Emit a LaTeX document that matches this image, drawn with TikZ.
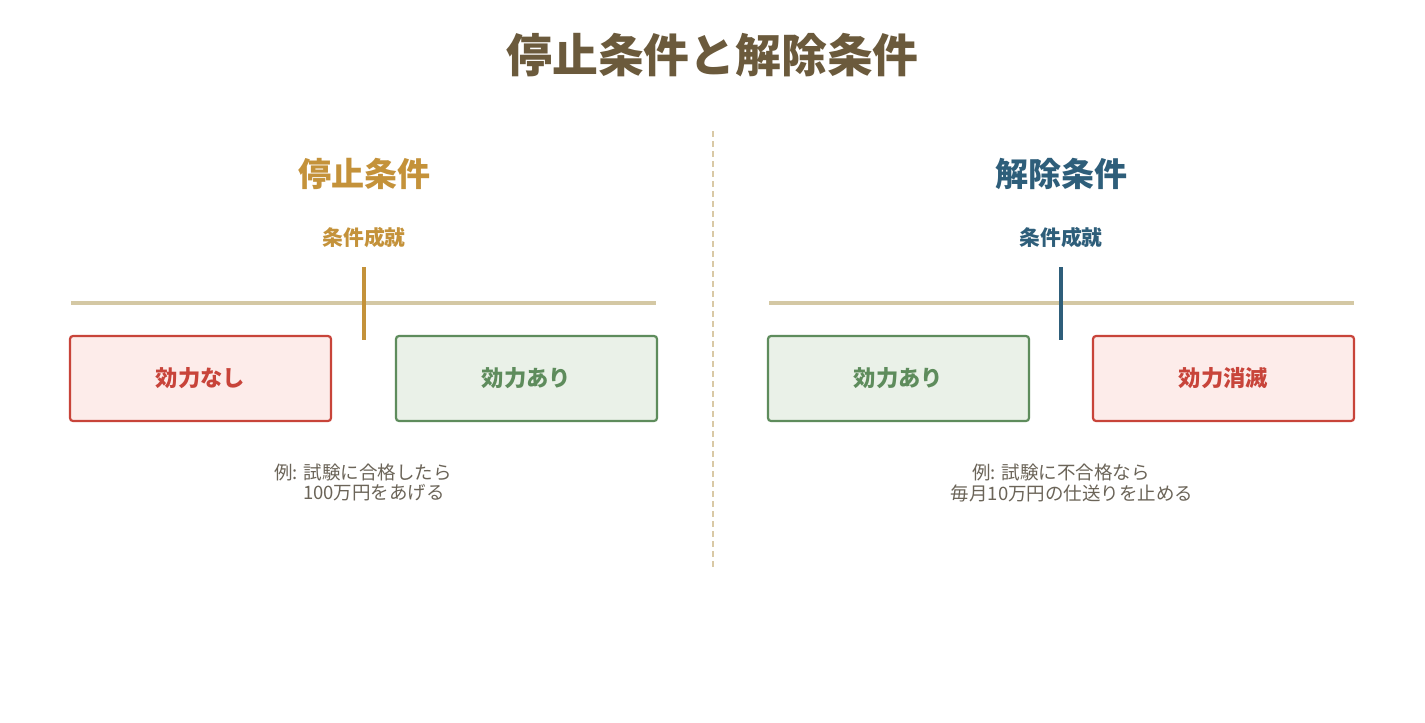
\documentclass[tikz,border=0pt]{standalone}
\usepackage{fontspec}
\setmainfont{Noto Sans CJK JP}
\definecolor{titlebrown}{HTML}{6B5A3C}
\definecolor{gold}{HTML}{C4923A}
\definecolor{navy}{HTML}{2E5E7A}
\definecolor{beige}{HTML}{D4C8A4}
\definecolor{divc}{HTML}{D9C9A6}
\definecolor{redS}{HTML}{C8443A}
\definecolor{redF}{HTML}{FDECEA}
\definecolor{greenS}{HTML}{5E8C5C}
\definecolor{greenF}{HTML}{EAF1E8}
\definecolor{grayT}{HTML}{6B6458}
\tikzset{
  box/.style={draw, line width=2.2pt, rounded corners=3pt, minimum width=261pt, minimum height=85pt, inner sep=0pt, font=\fontsize{22.3}{26}\selectfont\bfseries},
  redbox/.style={box, draw=redS, fill=redF, text=redS},
  greenbox/.style={box, draw=greenS, fill=greenF, text=greenS},
  subtitle/.style={inner sep=0pt, font=\fontsize{33}{39}\selectfont\bfseries},
  event/.style={inner sep=0pt, font=\fontsize{20.8}{25}\selectfont\bfseries},
  example/.style={inner sep=0pt, text=grayT, font=\fontsize{18.5}{22}\selectfont},
  timeline/.style={draw=beige, line width=4pt},
  marker/.style={line width=3.5pt}
}
\begin{document}
\begin{tikzpicture}[x=1pt,y=-1pt]
\useasboundingbox[fill=white] (0,0) rectangle (1425,723);
% title
\node[inner sep=0pt, text=titlebrown, font=\fontsize{45.8}{54}\selectfont\bfseries] (title) at (712.5,55) {停止条件と解除条件};
% divider
\coordinate (dtop) at (713,131);
\coordinate (dbot) at (713,568);
\draw[divc, line width=2pt, dash pattern=on 6pt off 4pt] (dtop) -- (dbot);

% left: 停止条件
\node[subtitle, text=gold] (lt) at (364,174) {停止条件};
\node[event, text=gold] (le) at (364,238) {条件成就};
\coordinate (ltl) at (71,303);
\coordinate (ltr) at (656,303);
\draw[timeline] (ltl) -- (ltr);
\coordinate (lmt) at (364,267);
\coordinate (lmb) at (364,340);
\draw[marker, gold] (lmt) -- (lmb);
\node[redbox] (lb1) at (200.5,378.5) {効力なし};
\node[greenbox] (lb2) at (526.5,378.5) {効力あり};
\node[example] (lx1) at (363,472) {例: 試験に合格したら};
\node[example] (lx2) at (374,493) {100万円をあげる};

% right: 解除条件
\node[subtitle, text=navy] (rt) at (1061,174) {解除条件};
\node[event, text=navy] (re) at (1061,238) {条件成就};
\coordinate (rtl) at (769,303);
\coordinate (rtr) at (1354,303);
\draw[timeline] (rtl) -- (rtr);
\coordinate (rmt) at (1061,267);
\coordinate (rmb) at (1061,340);
\draw[marker, navy] (rmt) -- (rmb);
\node[greenbox] (rb1) at (898.5,378.5) {効力あり};
\node[redbox] (rb2) at (1223.5,378.5) {効力消滅};
\node[example] (rx1) at (1061,472) {例: 試験に不合格なら};
\node[example] (rx2) at (1072,493) {毎月10万円の仕送りを止める};
\end{tikzpicture}
\end{document}
